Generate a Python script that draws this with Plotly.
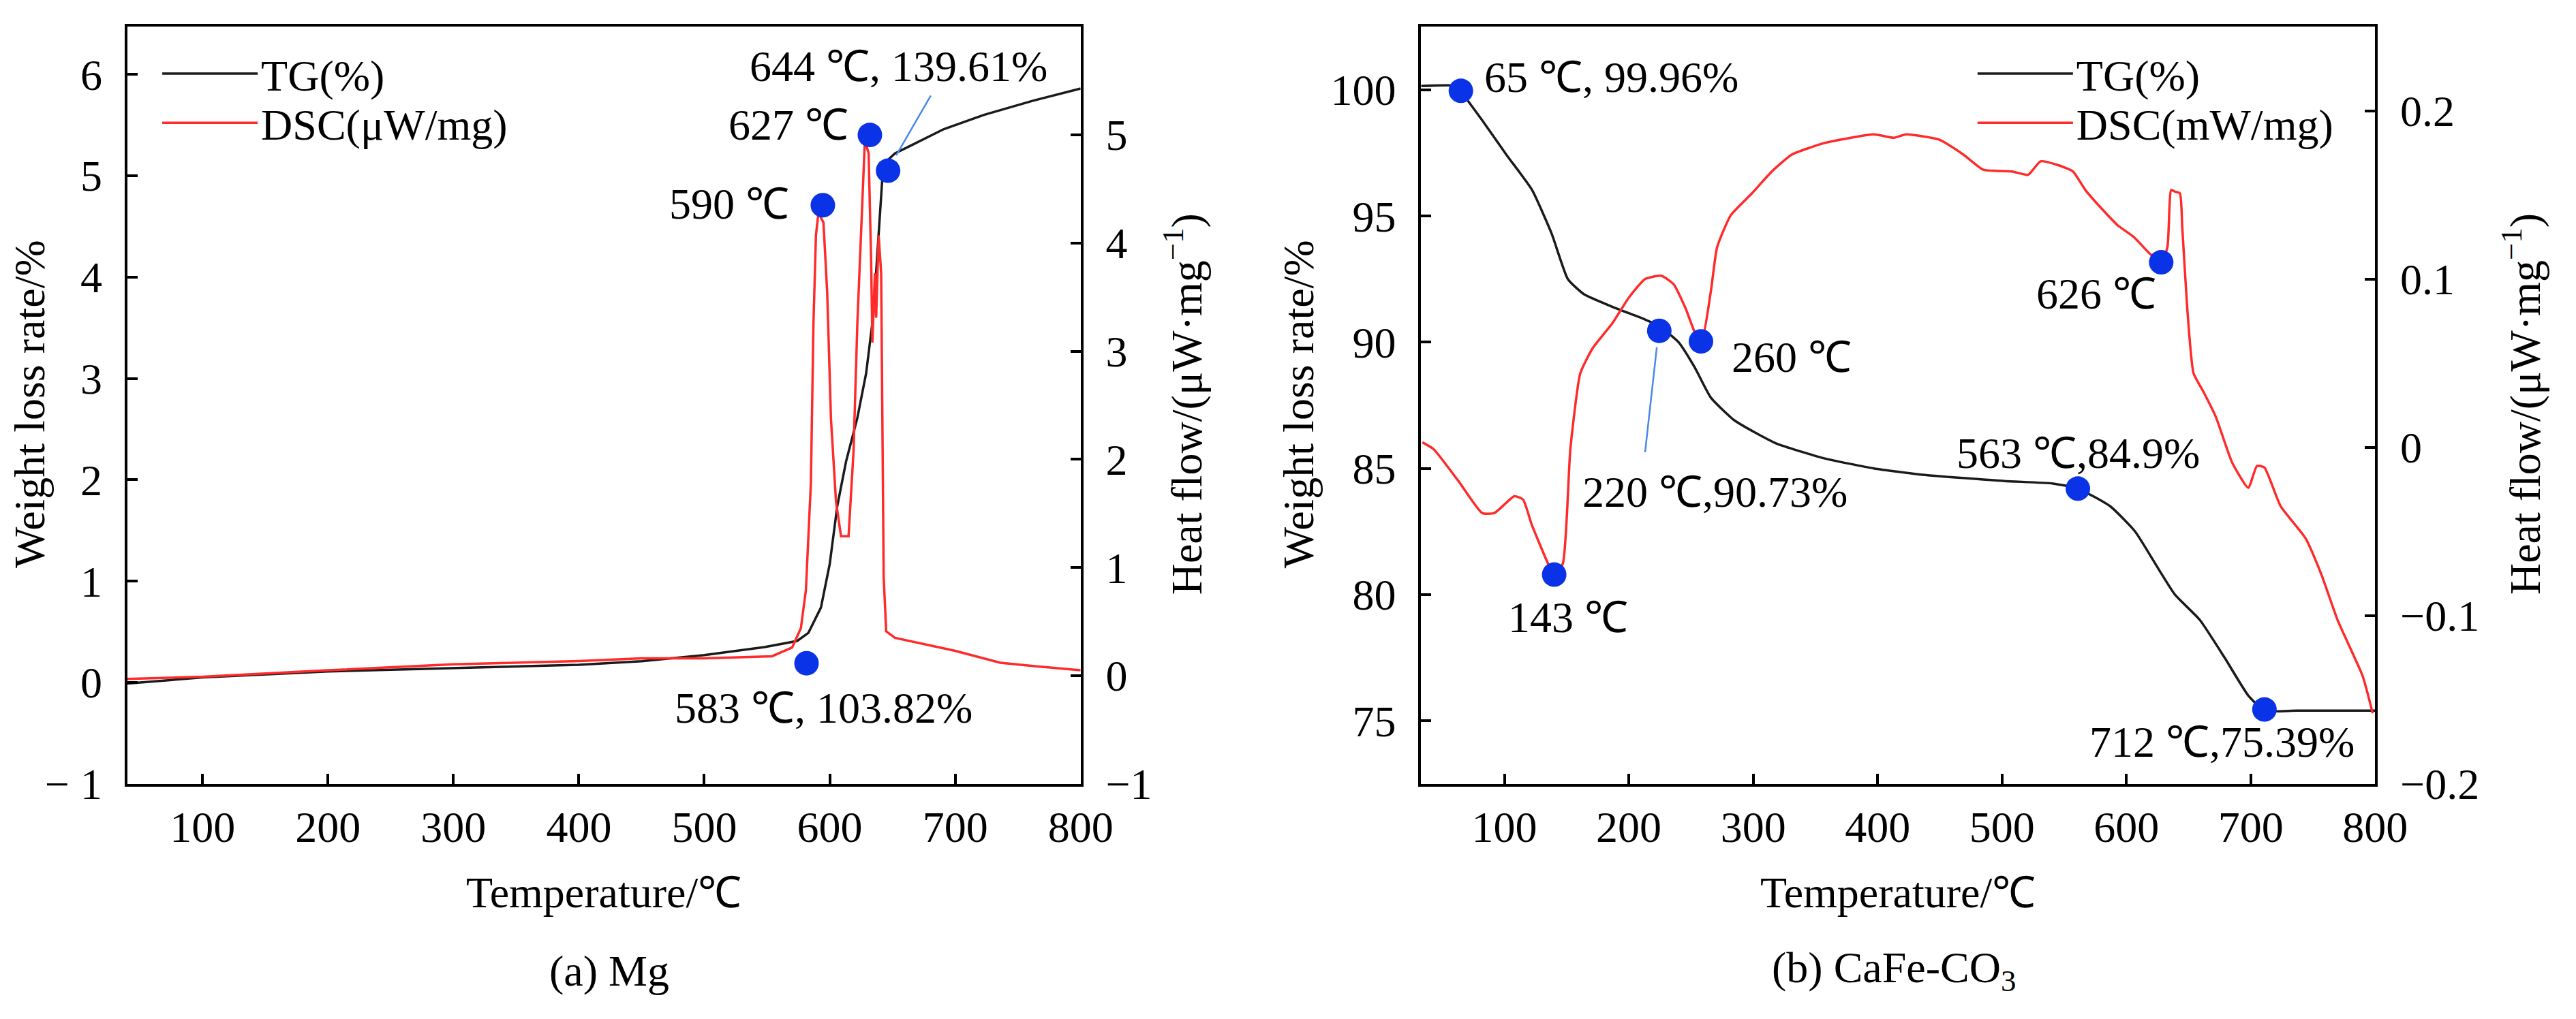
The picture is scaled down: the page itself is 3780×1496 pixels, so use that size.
import plotly.graph_objects as go
from plotly.subplots import make_subplots

# %% (a) Mg -- TG (left axis, %) and DSC (right axis, uW/mg)
mg_tg_temp = [40, 100, 200, 300, 400, 450, 500, 548, 574, 583, 593, 600, 606, 613,
              622, 629, 634, 637, 640, 642, 645, 652, 665, 691, 723, 762, 800]
mg_tg = [-0.01, 0.05, 0.11, 0.14, 0.175, 0.21, 0.27, 0.35, 0.41, 0.49, 0.74, 1.17, 1.74,
         2.18, 2.61, 3.05, 3.55, 4.05, 4.61, 4.99, 5.14, 5.22, 5.30, 5.46, 5.60, 5.74, 5.86]

mg_dsc_temp = [40, 100, 200, 268, 300, 400, 450, 500, 554, 570, 577, 581, 585, 587, 589,
               591, 595, 598, 601, 605, 609, 615, 619, 622, 626, 628, 631, 633, 634, 636,
               637, 639, 641, 643, 645, 652, 700, 736, 762, 800]
mg_dsc = [-0.03, -0.01, 0.05, 0.09, 0.105, 0.135, 0.16, 0.16, 0.18, 0.26, 0.44, 0.79,
          1.79, 3.25, 4.07, 4.28, 4.19, 3.54, 2.37, 1.61, 1.29, 1.29, 2.08, 3.25, 4.42,
          4.95, 4.83, 3.84, 3.08, 3.72, 3.31, 4.07, 3.72, 0.91, 0.41, 0.35, 0.23, 0.12,
          0.09, 0.05]

mg_tg_pts_t = [581.5, 646.5]
mg_tg_pts = [0.19, 5.05]
mg_dsc_pts_t = [594.5, 632]
mg_dsc_pts = [4.35, 5.0]

# %% (b) CaFe-CO3 -- TG (left axis, %) and DSC (right axis, mW/mg)
ca_tg_temp = [33, 63, 65, 82, 102, 122, 138, 151, 164, 187, 213, 224, 240, 253, 266,
              285, 318, 357, 397, 436, 502, 541, 561, 587, 607, 626, 639, 659, 679, 698,
              711, 737, 800]
ca_tg = [100.15, 100.15, 99.96, 98.8, 97.4, 96.05, 94.3, 92.5, 91.9, 91.4, 90.9, 90.65,
         90.0, 89.0, 87.8, 86.9, 86.0, 85.4, 85.0, 84.75, 84.5, 84.4, 84.2, 83.5, 82.5,
         81.0, 80.0, 79.0, 77.5, 76.0, 75.4, 75.4, 75.4]

ca_dsc_temp = [34, 43, 63, 82, 92, 108, 115, 122, 135, 140, 147, 153, 161, 171, 187, 200,
               213, 226, 236, 246, 254, 259, 266, 271, 282, 299, 315, 331, 358, 397, 413,
               423, 449, 469, 485, 508, 521, 531, 544, 557, 567, 580, 593, 606, 619, 628,
               633, 636, 639, 643, 645, 649, 654, 662, 672, 685, 698, 705, 711, 724, 744,
               757, 770, 790, 798]
ca_dsc = [0.003, -0.001, -0.02, -0.039, -0.039, -0.029, -0.031, -0.046, -0.069, -0.076,
          -0.069, -0.001, 0.044, 0.059, 0.074, 0.089, 0.100, 0.102, 0.097, 0.082, 0.067,
          0.065, 0.093, 0.119, 0.138, 0.151, 0.164, 0.174, 0.181, 0.186, 0.184, 0.186,
          0.183, 0.174, 0.165, 0.164, 0.162, 0.170, 0.168, 0.164, 0.153, 0.142, 0.132,
          0.125, 0.115, 0.110, 0.119, 0.153, 0.152, 0.151, 0.130, 0.082, 0.044, 0.033,
          0.018, -0.009, -0.024, -0.011, -0.012, -0.035, -0.054, -0.076, -0.103, -0.136,
          -0.158]

ca_tg_pts_t = [65, 224.5, 561, 711]
ca_tg_pts = [99.96, 90.45, 84.2, 75.45]
ca_dsc_pts_t = [140, 258, 628]
ca_dsc_pts = [-0.0756, 0.063, 0.11]

temp_ticks = [100, 200, 300, 400, 500, 600, 700, 800]
mg_left_ticks = [-1, 0, 1, 2, 3, 4, 5, 6]
mg_left_text = ["\u2212 1", "0", "1", "2", "3", "4", "5", "6"]

FONT = "Liberation Serif"
BLACK = "#1a1a1a"
RED = "#ff2a2a"
BLUE = "#0a32e6"
LINK = "#4a88e8"
FS = 64
W, H = 3780, 1496

fig = make_subplots(rows=1, cols=2,
                    specs=[[{"secondary_y": True}, {"secondary_y": True}]])

# curves -- one legend per entry so each row can be placed like the original
fig.add_trace(go.Scatter(x=mg_tg_temp, y=mg_tg, mode="lines", name="TG(%)",
                         line=dict(color=BLACK, width=3.5), legend="legend"),
              row=1, col=1, secondary_y=False)
fig.add_trace(go.Scatter(x=mg_dsc_temp, y=mg_dsc, mode="lines", name="DSC(\u03bcW/mg)",
                         line=dict(color=RED, width=3.5), legend="legend2"),
              row=1, col=1, secondary_y=True)
fig.add_trace(go.Scatter(x=ca_tg_temp, y=ca_tg, mode="lines", name="TG(%)",
                         line=dict(color=BLACK, width=3.5, shape="spline", smoothing=0.5),
                         legend="legend3"),
              row=1, col=2, secondary_y=False)
fig.add_trace(go.Scatter(x=ca_dsc_temp, y=ca_dsc, mode="lines", name="DSC(mW/mg)",
                         line=dict(color=RED, width=3.5, shape="spline", smoothing=0.5),
                         legend="legend4"),
              row=1, col=2, secondary_y=True)

# marked points
dot = dict(color=BLUE, size=36)
fig.add_trace(go.Scatter(x=mg_tg_pts_t, y=mg_tg_pts, mode="markers", marker=dot,
                         showlegend=False), row=1, col=1, secondary_y=False)
fig.add_trace(go.Scatter(x=mg_dsc_pts_t, y=mg_dsc_pts, mode="markers", marker=dot,
                         showlegend=False), row=1, col=1, secondary_y=True)
fig.add_trace(go.Scatter(x=ca_tg_pts_t, y=ca_tg_pts, mode="markers", marker=dot,
                         showlegend=False), row=1, col=2, secondary_y=False)
fig.add_trace(go.Scatter(x=ca_dsc_pts_t, y=ca_dsc_pts, mode="markers", marker=dot,
                         showlegend=False), row=1, col=2, secondary_y=True)

axis_style = dict(showline=True, linecolor="black", linewidth=4, ticks="inside",
                  ticklen=15, tickwidth=4, tickcolor="black", showgrid=False,
                  zeroline=False, tickfont=dict(family=FONT, size=FS, color="black"))

fig.update_xaxes(**axis_style, mirror=True, tickvals=temp_ticks, ticklabelstandoff=4)
fig.update_layout(
    xaxis=dict(domain=[181 / W, 1598 / W], range=[40, 800]),
    xaxis2=dict(domain=[2104 / W, 3522 / W], range=[33, 800]),
)
fig.update_yaxes(**axis_style, ticklabelstandoff=20)
fig.update_layout(
    yaxis=dict(domain=[1 - 1171 / H, 1 - 32 / H], range=[-1, 6.47],
               tickvals=mg_left_ticks, ticktext=mg_left_text),
    yaxis2=dict(range=[-1, 6], dtick=1),
    yaxis3=dict(domain=[1 - 1171 / H, 1 - 32 / H], range=[72.5, 102.5], dtick=5),
    yaxis4=dict(range=[-0.2, 0.25], tickvals=[-0.2, -0.1, 0, 0.1, 0.2]),
)

ann = dict(showarrow=False, xanchor="center", yanchor="middle",
           font=dict(family=FONT, size=FS, color="black"))
notes = [
    # (a)
    dict(x=655, y=6.08, xref="x", yref="y", text="644 \u2103, 139.61%"),
    dict(x=567, y=5.50, xref="x", yref="y", text="627 \u2103"),
    dict(x=520, y=4.72, xref="x", yref="y", text="590 \u2103"),
    dict(x=595, y=-0.25, xref="x", yref="y", text="583 \u2103, 103.82%"),
    # (b)
    dict(x=186, y=100.5, xref="x2", yref="y3", text="65 \u2103, 99.96%"),
    dict(x=331, y=89.4, xref="x2", yref="y3", text="260 \u2103"),
    dict(x=269, y=84.05, xref="x2", yref="y3", text="220 \u2103,90.73%"),
    dict(x=576, y=91.9, xref="x2", yref="y3", text="626 \u2103"),
    dict(x=561, y=85.6, xref="x2", yref="y3", text="563 \u2103,84.9%"),
    dict(x=151, y=79.1, xref="x2", yref="y3", text="143 \u2103"),
    dict(x=677, y=74.15, xref="x2", yref="y3", text="712 \u2103,75.39%"),
    # axis titles and captions
    dict(x=889 / W, y=1 - 1335 / H, xref="paper", yref="paper",
         text="Temperature/\u2103"),
    dict(x=2813 / W, y=1 - 1335 / H, xref="paper", yref="paper",
         text="Temperature/\u2103"),
    dict(x=897 / W, y=1 - 1452 / H, xref="paper", yref="paper", text="(a) Mg"),
    dict(x=2807 / W, y=1 - 1452 / H, xref="paper", yref="paper",
         text="(b) CaFe-CO<sub>3</sub>"),
    dict(x=36 / W, y=1 - 600 / H, xref="paper", yref="paper", textangle=-90,
         text="Weight loss rate/%"),
    dict(x=1751 / W, y=1 - 600 / H, xref="paper", yref="paper", textangle=-90,
         text="Heat flow/(\u03bcW\u00b7mg<sup>\u22121</sup>)"),
    dict(x=1922 / W, y=1 - 600 / H, xref="paper", yref="paper", textangle=-90,
         text="Weight loss rate/%"),
    dict(x=3740 / W, y=1 - 600 / H, xref="paper", yref="paper", textangle=-90,
         text="Heat flow/(\u03bcW\u00b7mg<sup>\u22121</sup>)"),
]
for n in notes:
    fig.add_annotation(**ann, **n)

# leader lines from labels to points
link = dict(showarrow=True, arrowhead=0, arrowwidth=2.5, arrowcolor=LINK, text="")
fig.add_annotation(**link, x=653, y=5.2, ax=681, ay=5.8, xref="x", yref="y",
                   axref="x", ayref="y")
fig.add_annotation(**link, x=222.5, y=89.8, ax=213, ay=85.6, xref="x2", yref="y3",
                   axref="x2", ayref="y3")

legend_style = dict(bgcolor="rgba(0,0,0,0)", font=dict(family=FONT, size=FS, color="black"),
                    itemwidth=140, xanchor="left", yanchor="middle")
fig.update_layout(
    width=W, height=H,
    margin=dict(l=0, r=0, t=0, b=0),
    paper_bgcolor="white", plot_bgcolor="white",
    font=dict(family=FONT, size=FS, color="black"),
    legend=dict(**legend_style, x=228 / W, y=1 - 103 / H),
    legend2=dict(**legend_style, x=228 / W, y=1 - 177 / H),
    legend3=dict(**legend_style, x=2926 / W, y=1 - 103 / H),
    legend4=dict(**legend_style, x=2926 / W, y=1 - 177 / H),
)

fig.write_html("out.html")
